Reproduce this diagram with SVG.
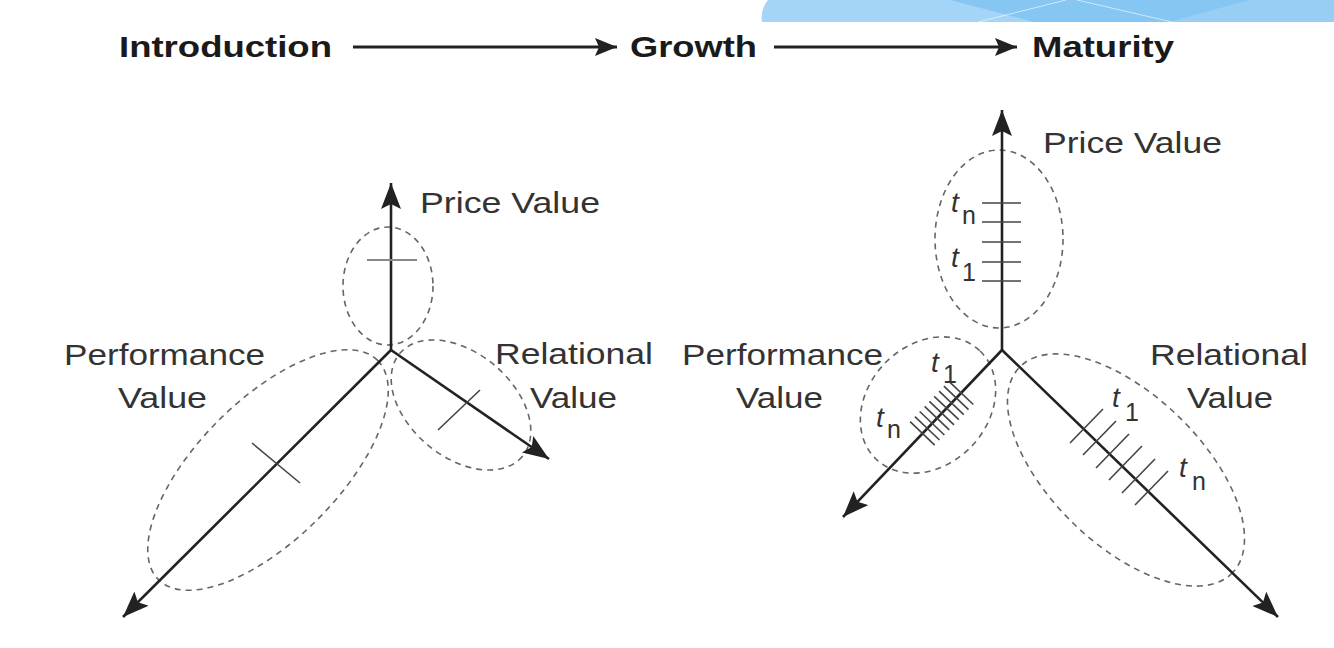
<svg xmlns="http://www.w3.org/2000/svg" width="1334" height="648" viewBox="0 0 1334 648">
<style>
.ax{stroke:#222;stroke-width:2.6;fill:none}
.hd{stroke:#222;stroke-width:3;fill:none}
.el{stroke:#666;stroke-width:1.6;fill:none;stroke-dasharray:6 5}
.tk{stroke:#444;stroke-width:1.6}
.tkg{stroke:#888;stroke-width:1.8}
.lb{font-family:"Liberation Sans",Arial,sans-serif;font-size:30px;fill:#333}
.hl{font-family:"Liberation Sans",Arial,sans-serif;font-size:30px;font-weight:bold;fill:#1a1a1a}
.tl{font-family:"Liberation Sans",Arial,sans-serif;fill:#333}
.it{font-style:italic;font-size:28px}
.sb{font-size:25px}
</style>
<defs>
<marker id="ah" markerUnits="userSpaceOnUse" markerWidth="28" markerHeight="22" refX="26" refY="10" orient="auto">
<path d="M0,0 L26,10 L0,20 L5,10 z" fill="#222"/>
</marker>
<marker id="hh" markerUnits="userSpaceOnUse" markerWidth="24" markerHeight="20" refX="22" refY="9" orient="auto">
<path d="M0,0 L22,9 L0,18 L4,9 z" fill="#222"/>
</marker>
</defs>
<rect width="1334" height="648" fill="#fff"/>
<g id="banner">
<path d="M768,0 H1334 V22 H762 Q760,10 768,0 z" fill="#a4d4f6"/>
<polygon points="950,0 1250,0 1170,22 1034,22" fill="#85c6f2"/>
<polygon points="1250,0 1334,0 1334,22 1170,22" fill="#98cef4"/>
<line x1="978" y1="22" x2="1066" y2="0" stroke="#fff" stroke-opacity="0.6" stroke-width="1"/>
<line x1="1077" y1="0" x2="1172" y2="22" stroke="#fff" stroke-opacity="0.6" stroke-width="1"/>
</g>
<g id="header">
<text class="hl" x="119" y="57" textLength="213" lengthAdjust="spacingAndGlyphs">Introduction</text>
<text class="hl" x="630" y="57" textLength="127" lengthAdjust="spacingAndGlyphs">Growth</text>
<text class="hl" x="1032" y="57" textLength="142" lengthAdjust="spacingAndGlyphs">Maturity</text>
</g>
<g id="connectors">
<line class="hd" x1="353" y1="47" x2="617" y2="47" marker-end="url(#hh)"/>
<line class="hd" x1="774" y1="47" x2="1017" y2="47" marker-end="url(#hh)"/>
</g>
<g id="left-diagram">
<ellipse class="el" cx="388" cy="286" rx="45" ry="59"/>
<ellipse class="el" cx="461" cy="405" rx="80" ry="52" transform="rotate(40 461 405)"/>
<ellipse class="el" cx="268" cy="470" rx="155" ry="70" transform="rotate(-45 268 470)"/>
<line class="ax" x1="391" y1="350" x2="391" y2="183" marker-end="url(#ah)"/>
<line class="ax" x1="391" y1="350" x2="123" y2="617" marker-end="url(#ah)"/>
<line class="ax" x1="391" y1="350" x2="549" y2="459" marker-end="url(#ah)"/>
<line class="tkg" x1="367" y1="260" x2="417" y2="260"/>
<line class="tk" x1="438" y1="430" x2="480" y2="390"/>
<line class="tk" x1="252" y1="443" x2="300" y2="483"/>
<text class="lb" x="420" y="213" textLength="180" lengthAdjust="spacingAndGlyphs">Price Value</text>
<text class="lb" x="64" y="365" textLength="201" lengthAdjust="spacingAndGlyphs">Performance</text>
<text class="lb" x="118" y="408" textLength="89" lengthAdjust="spacingAndGlyphs">Value</text>
<text class="lb" x="495" y="364" textLength="158" lengthAdjust="spacingAndGlyphs">Relational</text>
<text class="lb" x="530" y="408" textLength="87" lengthAdjust="spacingAndGlyphs">Value</text>
</g>
<g id="right-diagram">
<ellipse class="el" cx="999" cy="239" rx="64" ry="89"/>
<ellipse class="el" cx="928" cy="405" rx="75" ry="60" transform="rotate(-46 928 405)"/>
<ellipse class="el" cx="1126" cy="470" rx="148" ry="75" transform="rotate(44 1126 470)"/>
<line class="ax" x1="1002" y1="350" x2="1002" y2="110" marker-end="url(#ah)"/>
<line class="ax" x1="1002" y1="350" x2="843" y2="517" marker-end="url(#ah)"/>
<line class="ax" x1="1002" y1="350" x2="1278" y2="617" marker-end="url(#ah)"/>
<g class="tk">
<line x1="982" y1="203" x2="1021" y2="203"/>
<line x1="982" y1="222" x2="1021" y2="222"/>
<line x1="982" y1="242" x2="1021" y2="242"/>
<line x1="982" y1="262" x2="1021" y2="262"/>
<line x1="982" y1="281" x2="1021" y2="281"/>
</g>
<g class="tk">
<line x1="948.7" y1="381.1" x2="973.3" y2="404.5"/>
<line x1="943.9" y1="386.1" x2="968.5" y2="409.6"/>
<line x1="939.1" y1="391.2" x2="963.7" y2="414.6"/>
<line x1="934.2" y1="396.3" x2="958.8" y2="419.7"/>
<line x1="929.4" y1="401.4" x2="954.0" y2="424.8"/>
<line x1="924.6" y1="406.4" x2="949.2" y2="429.9"/>
<line x1="919.7" y1="411.5" x2="944.4" y2="435.0"/>
<line x1="914.9" y1="416.6" x2="939.5" y2="440.0"/>
<line x1="910.1" y1="421.7" x2="934.7" y2="445.1"/>
</g>
<g class="tk">
<line x1="1070" y1="443" x2="1103" y2="409"/>
<line x1="1083" y1="455" x2="1116" y2="421"/>
<line x1="1096" y1="468" x2="1129" y2="434"/>
<line x1="1109" y1="480" x2="1142" y2="446"/>
<line x1="1122" y1="493" x2="1155" y2="459"/>
<line x1="1135" y1="505" x2="1168" y2="471"/>
</g>
<text class="tl"><tspan class="it" x="951" y="212">t</tspan><tspan class="sb" x="962" y="224">n</tspan></text>
<text class="tl"><tspan class="it" x="951" y="267">t</tspan><tspan class="sb" x="962" y="281">1</tspan></text>
<text class="tl"><tspan class="it" x="931" y="372">t</tspan><tspan class="sb" x="943" y="383">1</tspan></text>
<text class="tl"><tspan class="it" x="876" y="427">t</tspan><tspan class="sb" x="887" y="438">n</tspan></text>
<text class="tl"><tspan class="it" x="1112" y="407">t</tspan><tspan class="sb" x="1125" y="421">1</tspan></text>
<text class="tl"><tspan class="it" x="1179" y="477">t</tspan><tspan class="sb" x="1192" y="490">n</tspan></text>
<text class="lb" x="1043" y="153" textLength="179" lengthAdjust="spacingAndGlyphs">Price Value</text>
<text class="lb" x="682" y="365" textLength="201" lengthAdjust="spacingAndGlyphs">Performance</text>
<text class="lb" x="736" y="408" textLength="87" lengthAdjust="spacingAndGlyphs">Value</text>
<text class="lb" x="1150" y="365" textLength="158" lengthAdjust="spacingAndGlyphs">Relational</text>
<text class="lb" x="1187" y="408" textLength="86" lengthAdjust="spacingAndGlyphs">Value</text>
</g>
</svg>
